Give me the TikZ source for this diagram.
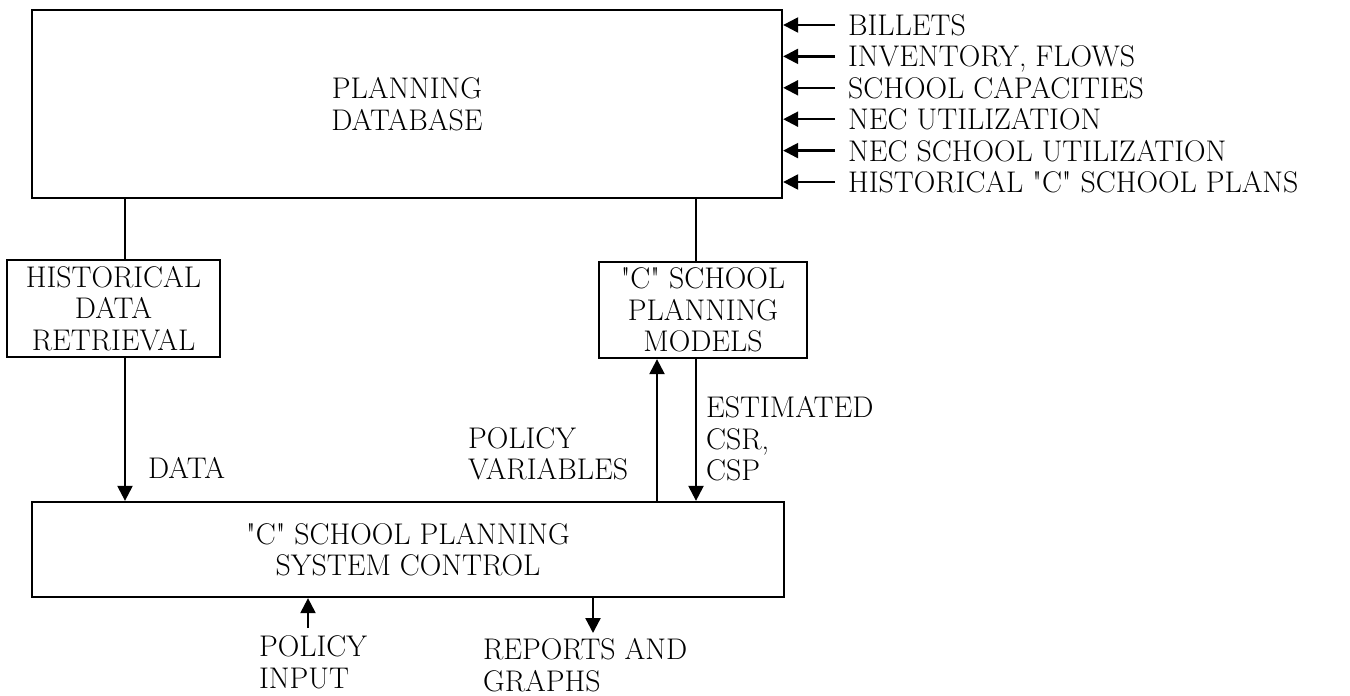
\documentclass[tikz,border=0pt]{standalone}
\usepackage{fontspec}
\setmainfont{Latin Modern Roman}[Ligatures=TeXOff]
\usepackage{tikz}
\usetikzlibrary{arrows.meta,calc,positioning}

\begin{document}
\begin{tikzpicture}[->,>={Triangle[length=8.5pt,width=8.5pt]},line width=1.3pt,
every node/.style={font=\fontsize{17}{17.9}\selectfont},
box/.style={draw,rectangle,align=center,inner sep=0pt},
lbl/.style={anchor=west,align=left,inner sep=0pt},
inlbl/.style={anchor=west,inner sep=0pt,text depth=0pt}]
\useasboundingbox (0,0) rectangle (27,-13.92);

\node[box,minimum width=15cm,minimum height=3.76cm] (db) at (8.14,-2.08) {PLANNING\\DATABASE};
\node[box,minimum width=4.26cm,minimum height=1.94cm] (hist) at (2.27,-6.17) {HISTORICAL\\DATA\\RETRIEVAL};
\node[box,minimum width=4.16cm,minimum height=1.92cm] (models) at (14.06,-6.2) {"C" SCHOOL\\PLANNING\\MODELS};
\node[box,minimum width=15.04cm,minimum height=1.9cm] (ctrl) at (8.16,-10.99) {"C" SCHOOL PLANNING\\SYSTEM CONTROL};

% inputs to the database
\foreach \txt [count=\i from 0] in {BILLETS,{INVENTORY, FLOWS},SCHOOL CAPACITIES,NEC UTILIZATION,NEC SCHOOL UTILIZATION,HISTORICAL "C" SCHOOL PLANS}
{
\node[inlbl] (in\i) at (16.94,{-0.5-0.628*\i}) {\txt};
\draw ([xshift=-0.24cm]in\i.west) -- (in\i.west -| db.east);
}

\coordinate (hx) at (2.5,0);
\coordinate (mx) at (13.92,0);
\coordinate (vx) at (13.14,0);
\coordinate (pin) at (6.16,-12.56);
\coordinate (rep) at (11.86,-12.66);

\draw[-] (db.south -| hx) -- (hist.north -| hx);
\draw (hist.south -| hx) -- (ctrl.north -| hx);
\draw[-] (db.south -| mx) -- (models.north -| mx);
\draw (models.south -| mx) -- (ctrl.north -| mx);
\draw (ctrl.north -| vx) -- (models.south -| vx);
\draw (pin) -- (ctrl.south -| pin);
\draw (ctrl.south -| rep) -- (rep);

\node[lbl] (data) at (2.94,-9.36) {DATA};
\node[lbl] (polvar) at (9.34,-9.08) {POLICY\\VARIABLES};
\node[lbl] (est) at (14.1,-8.78) {ESTIMATED\\CSR,\\CSP};
\node[lbl] (polin) at (5.16,-13.25) {POLICY\\INPUT};
\node[lbl] (rpt) at (9.64,-13.3) {REPORTS AND\\GRAPHS};
\end{tikzpicture}
\end{document}
